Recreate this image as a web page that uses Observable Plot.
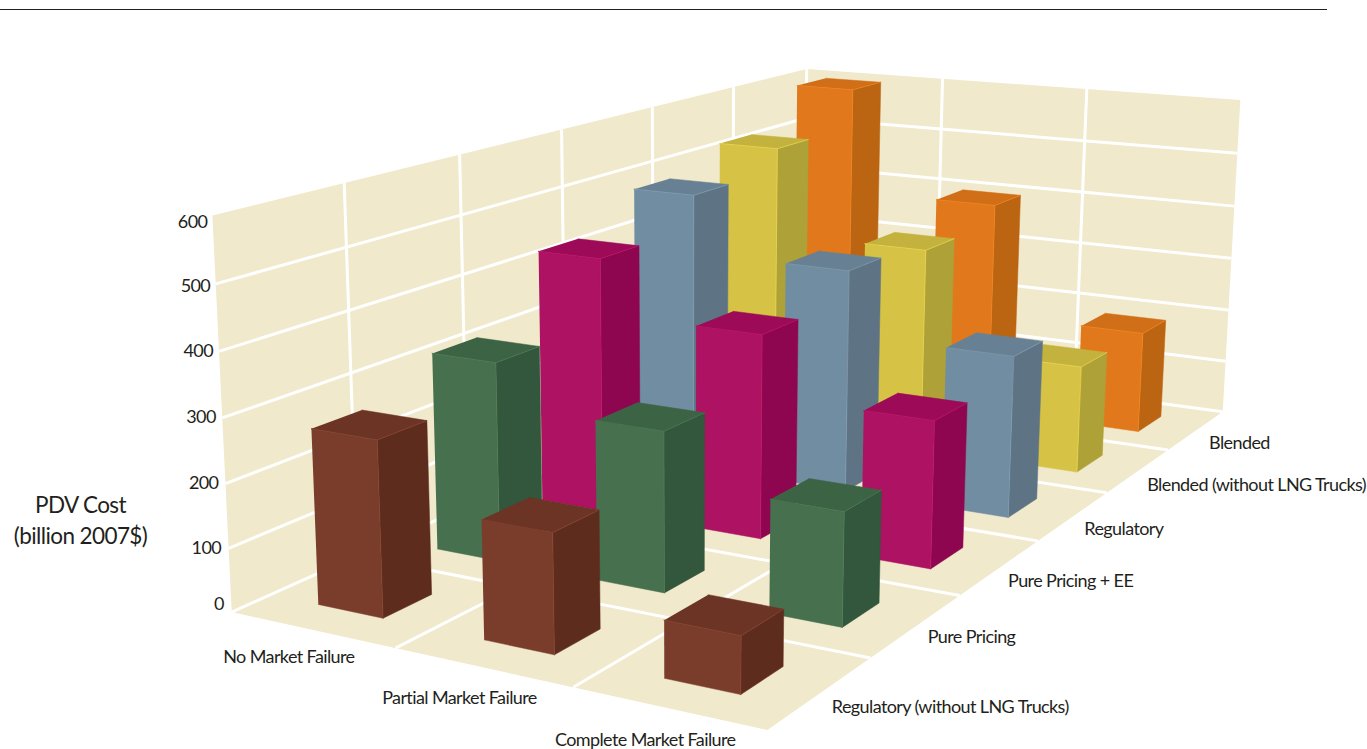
<!DOCTYPE html>
<html><head><meta charset="utf-8">
<style>html,body{margin:0;padding:0;background:#fff}svg{display:block}</style>
<script src="https://cdn.jsdelivr.net/npm/d3@7"></script>
<script src="https://cdn.jsdelivr.net/npm/@observablehq/plot@0.6"></script>
</head><body><div id="chart"></div>
<script>
const markets = ["No Market Failure","Partial Market Failure","Complete Market Failure"];
const policies = ["Regulatory (without LNG Trucks)","Pure Pricing","Pure Pricing + EE","Regulatory","Blended (without LNG Trucks)","Blended"];
const regulatoryNoLng = [274,182,85];
const purePricing = [323,255,177];
const purePricingEE = [432,340,240];
const regulatory = [489,387,276];
const blendedNoLng = [527,368,191];
const blended = [598,400,188];
const seriesValues = [regulatoryNoLng,purePricing,purePricingEE,regulatory,blendedNoLng,blended];
const frontColors = ["#7A3D2C","#47704E","#AE1262","#708DA1","#D6C245","#E2781C"];
const sideColors = ["#5E2C1D","#32573C","#8F0650","#5E7485","#AEA138","#BB6412"];
const topColors = ["#6C3425","#3D6345","#9C0A58","#688093","#C3B23E","#D06F18"];
const yTicks = [0,100,200,300,400,500,600];
const yTickNudge = [-8,0,0,-1,0,2,7];
const marketNudgeY = [-3,1,2];
const policyNudgeX = [0,0,-3,0,-2,2];
const policyNudgeY = [1,-2,0,0,1,-1];
const cream = "#F0E9CB", ink = "#231F20";
const font = "Lato, sans-serif";
const barU = 0.40, barV = 0.40;

// Camera: least-squares fit of a projective camera to the box corners
const calib = [[0,0,0,231,612],[3,0,0,767,729],[3,6,0,1222,412],[0,6,0,803,354],[0,0,600,212,215],[0,6,600,806,69],[3,6,600,1240,99]];
function solveCamera(){
  const A=[],b=[];
  for(const [u,v,h,x,y] of calib){const H=h/100,X=x/1000,Y=y/1000;
    A.push([u,v,H,1,0,0,0,0,-X*u,-X*v,-X*H]);b.push(X);
    A.push([0,0,0,0,u,v,H,1,-Y*u,-Y*v,-Y*H]);b.push(Y);}
  const n=11,M=[];
  for(let i=0;i<n;i++){M.push([]);for(let j=0;j<n;j++)M[i].push(d3.sum(A,r=>r[i]*r[j]));M[i].push(d3.sum(A,(r,k)=>r[i]*b[k]));}
  for(let i=0;i<n;i++){let p=i;for(let k=i+1;k<n;k++)if(Math.abs(M[k][i])>Math.abs(M[p][i]))p=k;[M[i],M[p]]=[M[p],M[i]];
    for(let k=0;k<n;k++)if(k!==i){const f=M[k][i]/M[i][i];for(let j=i;j<=n;j++)M[k][j]-=f*M[i][j];}}
  return M.map((r,i)=>r[n]/r[i]);
}
const C = solveCamera();
function project(u,v,val){const h=val/100,w=C[8]*u+C[9]*v+C[10]*h+1;
  return [1000*(C[0]*u+C[1]*v+C[2]*h+C[3])/w,1000*(C[4]*u+C[5]*v+C[6]*h+C[7])/w];}

const faces=[],edges=[];
let fid=0;
function face(pts,fill){const id=fid++;for(const [u,v,h] of pts){const [x,y]=project(u,v,h);faces.push({id,x,y,fill});}}
let eid=0;
function seg(a,b){const id=eid++;for(const p of [a,b]){const [x,y]=project(...p);edges.push({id,x,y});}}

face([[0,0,0],[3,0,0],[3,6,0],[0,6,0]],cream);
face([[0,0,0],[0,6,0],[0,6,600],[0,0,600]],cream);
face([[0,6,0],[3,6,0],[3,6,600],[0,6,600]],cream);
for(let v=1;v<6;v++){seg([0,v,0],[0,v,600]);seg([0,v,0],[3,v,0]);}
for(let u=1;u<3;u++){seg([u,6,0],[u,6,600]);seg([u,0,0],[u,6,0]);}
seg([0,6,0],[0,6,600]);seg([0,0,0],[0,6,0]);seg([0,6,0],[3,6,0]);
for(const t of yTicks.slice(1,-1)){seg([0,0,t],[0,6,t]);seg([0,6,t],[3,6,t]);}

const barFaces=[];
for(let v=5;v>=0;v--)for(let u=0;u<3;u++){
  const val=seriesValues[v][u];
  const u0=u+.5-barU/2,u1=u+.5+barU/2,v0=v+.5-barV/2,v1=v+.5+barV/2;
  const add=(pts,fill,edge)=>{const id=fid++;for(const p of pts){const [x,y]=project(...p);barFaces.push({id,x,y,fill,edge});}};
  add([[u0,v0,0],[u1,v0,0],[u1,v0,val],[u0,v0,val]],frontColors[v],frontColors[v]);
  add([[u1,v0,0],[u1,v1,0],[u1,v1,val],[u1,v0,val]],sideColors[v],sideColors[v]);
  add([[u0,v0,val],[u1,v0,val],[u1,v1,val],[u0,v1,val]],topColors[v],topColors[v]);
  const glint=d3.color(frontColors[v]).brighter(.5).formatHex();
  add([[u0,v0,val],[u1,v0,val],[u1,v1,val]],"none",glint);
  add([[u1,v0,0],[u1,v0,val]],"none",glint);
}
const point=(f,dx,dy)=>{const [x,y]=f;return {x:x+dx,y:y+dy};};
const marketLabels=markets.map((t,i)=>({t,...point(project(i+.5,0,0),-23,30+marketNudgeY[i])}));
const policyLabels=policies.map((t,i)=>({t,...point(project(3,i+.5,0),11+policyNudgeX[i],13.5+policyNudgeY[i])}));
const tickLabels=yTicks.map((t,i)=>({t:String(t),...point(project(0,0,t),-5-(600-t)/200,yTickNudge[i])}));

const chart=Plot.plot({
  width:1367,height:749,margin:0,
  x:{domain:[0,1367],range:[0,1367],axis:null},
  y:{domain:[0,749],range:[0,749],axis:null},
  color:{type:"identity"},
  style:{background:"#fff",fontFamily:font,letterSpacing:"-0.6px"},
  marks:[
    Plot.ruleY([9],{x1:0,x2:1327,stroke:"#231F20",strokeWidth:1.2}),
    Plot.line(faces,{x:"x",y:"y",z:"id",fill:"fill",stroke:"none"}),
    Plot.line(edges,{x:"x",y:"y",z:"id",stroke:"#fff",strokeWidth:3,strokeLinecap:"butt"}),
    Plot.line(barFaces,{x:"x",y:"y",z:"id",fill:"fill",stroke:"edge",strokeWidth:.5}),
    Plot.text(marketLabels,{x:"x",y:"y",text:"t",fontSize:18,fill:ink,textAnchor:"middle",fontFamily:font}),
    Plot.text(policyLabels,{x:"x",y:"y",text:"t",fontSize:18,fill:ink,textAnchor:"start",fontFamily:font}),
    Plot.text(tickLabels,{x:"x",y:"y",text:"t",fontSize:18,fill:ink,textAnchor:"end",fontFamily:font}),
    Plot.text(["PDV Cost","(billion 2007$)"],{x:()=>80,y:(d,i)=>505+i*31,text:d=>d,fontSize:22.5,fill:ink,textAnchor:"middle",fontFamily:font})
  ]
});
document.getElementById("chart").append(chart);
</script></body></html>
